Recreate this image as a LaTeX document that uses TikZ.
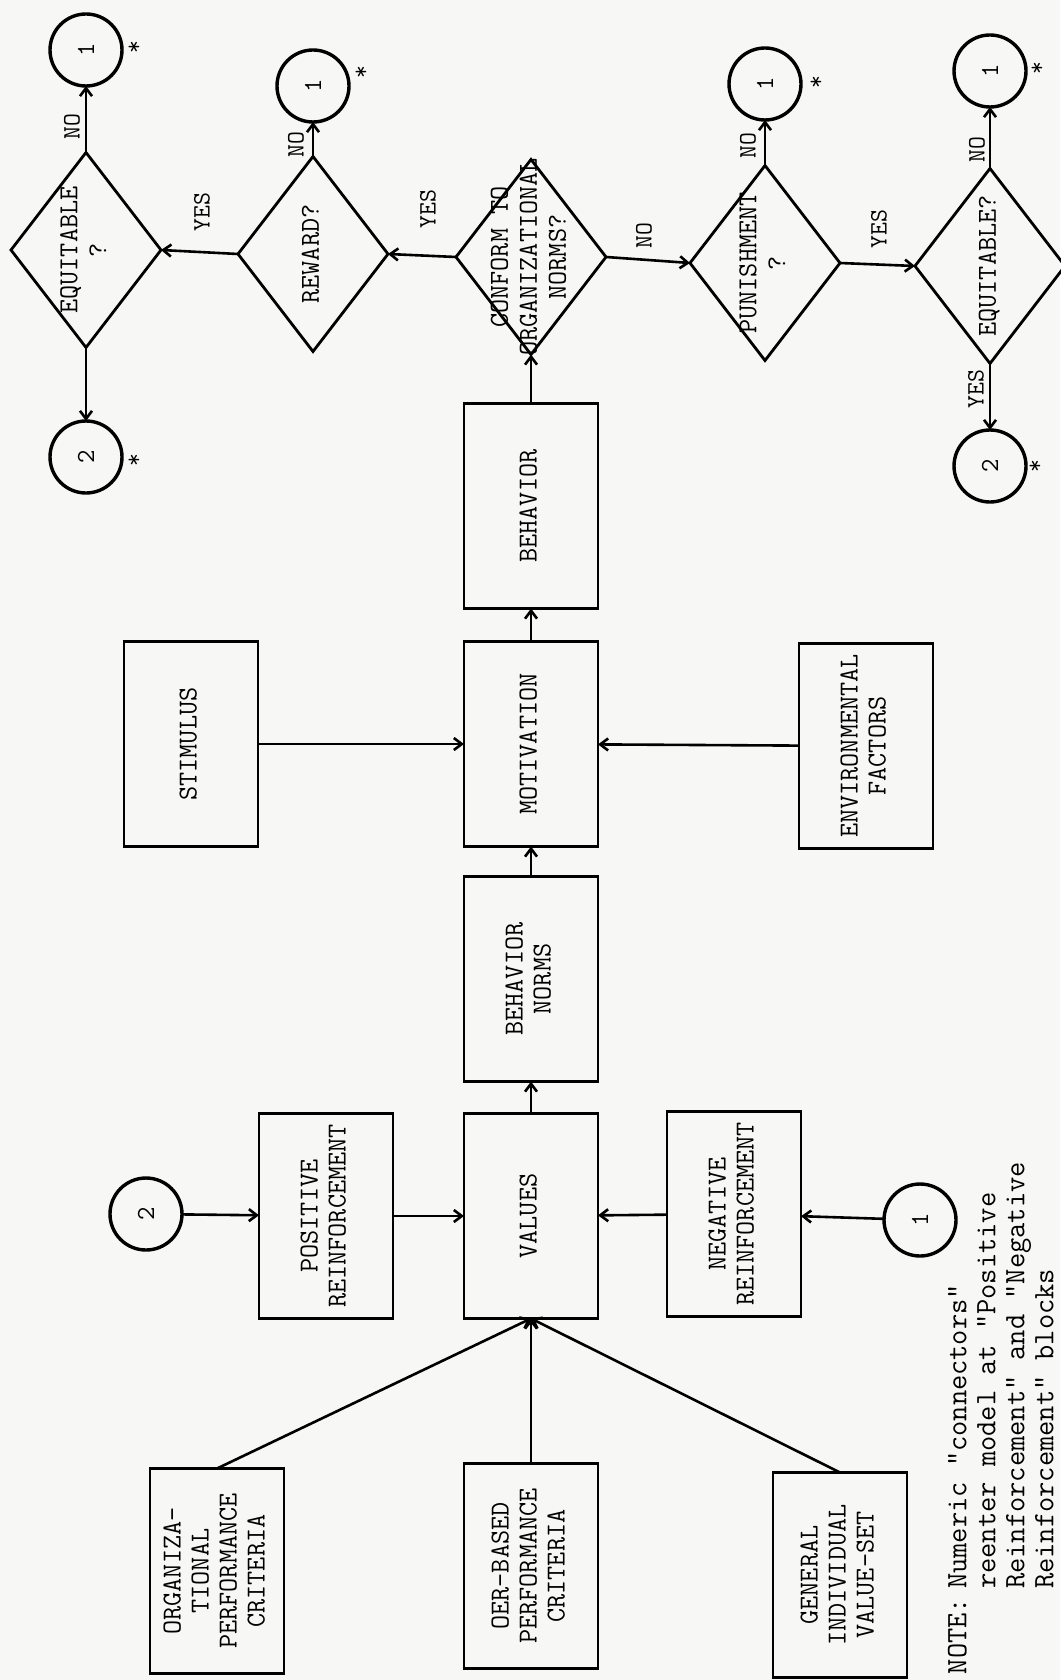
\documentclass[tikz,border=0pt]{standalone}
\usepackage{fontspec}
\usepackage{graphicx}
\usepackage{tikz}
\usetikzlibrary{shapes.geometric,arrows.meta}
\definecolor{scanPaper}{HTML}{F7F7F5}
\newcommand{\vlabel}[1]{\makebox[0pt]{\raisebox{0pt}[0pt][0pt]{\raisebox{-.5\height}{\rotatebox{90}{\begin{tabular}{@{}c@{}}#1\end{tabular}}}}}}

\begin{document}
\begin{tikzpicture}[x=0.5pt,y=-0.5pt,outer sep=0pt,inner sep=0pt,
block/.style={draw,line width=1.2pt,minimum width=67pt,minimum height=102.5pt,font=\ttfamily\fontsize{13.7}{14}\selectfont},
decision/.style={diamond,draw,line width=1.4pt,minimum width=75pt,minimum height=97.5pt,font=\ttfamily\fontsize{13.7}{14.5}\selectfont},
connector/.style={circle,draw,line width=1.7pt,minimum size=36pt,rotate=90,font=\ttfamily\fontsize{13}{14}\selectfont},
answer/.style={rotate=90,font=\ttfamily\fontsize{12.5}{13}\selectfont},
flow/.style={line width=1.3pt,-{Straight Barb[length=4pt,width=6pt]}},
]
\fill[scanPaper] (0,0) rectangle (1060,1680);
\useasboundingbox (0,0) rectangle (1060,1680);

\node[decision] (eqa) at (86,250) {\vlabel{EQUITABLE\\?}};
\node[decision] (rew) at (313,254) {\vlabel{REWARD?}};
\node[decision] (conf) at (531,257) {\vlabel{CONFORM TO\\ORGANIZATIONAL\\NORMS?}};
\node[decision] (pun) at (765,263) {\vlabel{PUNISHMENT\\?}};
\node[decision] (eqb) at (990,266) {\vlabel{EQUITABLE?}};

\node[connector] (one-a) at (86,50) {1};
\node[connector] (one-b) at (313,86) {1};
\node[connector] (one-c) at (765,84) {1};
\node[connector] (one-d) at (990,71) {1};
\node[connector] (two-a) at (86,457) {2};
\node[connector] (two-b) at (990,466) {2};
\node[connector] (two-p) at (146,1214) {2};
\node[connector] (one-n) at (920,1220) {1};

\node[answer] (star-a) at (135,47) {*};
\node[answer] (star-b) at (362,72) {*};
\node[answer] (star-c) at (817,82) {*};
\node[answer] (star-d) at (1038,68) {*};
\node[answer] (star-e) at (135,460) {*};
\node[answer] (star-f) at (1036,466) {*};

\node[block] (beh) at (531,506) {\vlabel{BEHAVIOR}};
\node[block] (mot) at (531,744) {\vlabel{MOTIVATION}};
\node[block] (stim) at (191,744) {\vlabel{STIMULUS}};
\node[block] (env) at (866,746) {\vlabel{ENVIRONMENTAL\\FACTORS}};
\node[block] (bnorm) at (531,979) {\vlabel{BEHAVIOR\\NORMS}};
\node[block] (val) at (531,1216) {\vlabel{VALUES}};
\node[block] (pos) at (326,1216) {\vlabel{POSITIVE\\REINFORCEMENT}};
\node[block] (neg) at (734,1214) {\vlabel{NEGATIVE\\REINFORCEMENT}};
\node[block] (org) at (217,1571) {\vlabel{ORGANIZA-\\TIONAL\\PERFORMANCE\\CRITERIA}};
\node[block] (oer) at (531,1566) {\vlabel{OER-BASED\\PERFORMANCE\\CRITERIA}};
\node[block] (gen) at (840,1575) {\vlabel{GENERAL\\INDIVIDUAL\\VALUE-SET}};

\draw[flow] (conf.west) -- (rew.east);
\draw[flow] (rew.west) -- (eqa.east);
\draw[flow] (eqa.north) -- (one-a);
\draw[flow] (eqa.south) -- (two-a);
\draw[flow] (rew.north) -- (one-b);
\draw[flow] (conf.east) -- (pun.west);
\draw[flow] (pun.north) -- (one-c);
\draw[flow] (pun.east) -- (eqb.west);
\draw[flow] (eqb.north) -- (one-d);
\draw[flow] (eqb.south) -- (two-b);
\draw[flow] (beh) -- (conf);
\draw[flow] (mot) -- (beh);
\draw[flow] (bnorm) -- (mot);
\draw[flow] (val) -- (bnorm);
\draw[flow] (stim) -- (mot);
\draw[flow] (env) -- (mot);
\draw[flow] (two-p) -- (pos);
\draw[flow] (pos) -- (val);
\draw[flow] (neg) -- (val);
\draw[flow] (one-n) -- (neg);
\draw[flow] (org.north) -- (val.south);
\draw[flow] (oer) -- (val);
\draw[flow] (gen.north) -- (val.south);

\node[answer] (yes-a) at (202,212) {YES};
\node[answer] (yes-b) at (428,209) {YES};
\node[answer] (no-a) at (72,127) {NO};
\node[answer] (no-b) at (296,145) {NO};
\node[answer] (no-c) at (644,236) {NO};
\node[answer] (no-d) at (748,146) {NO};
\node[answer] (yes-c) at (879,229) {YES};
\node[answer] (no-e) at (977,150) {NO};
\node[answer] (yes-d) at (976,389) {YES};

\node[rotate=90,anchor=north west,font=\ttfamily\fontsize{14.8}{14.5}\selectfont] (note) at (946,1674)
{\begin{tabular}{@{}l@{\hspace{0.3em}}l@{}}
NOTE: & Numeric "connectors"\\
 & reenter model at "Positive\\
 & Reinforcement" and "Negative\\
 & Reinforcement" blocks
\end{tabular}};
\end{tikzpicture}
\end{document}
